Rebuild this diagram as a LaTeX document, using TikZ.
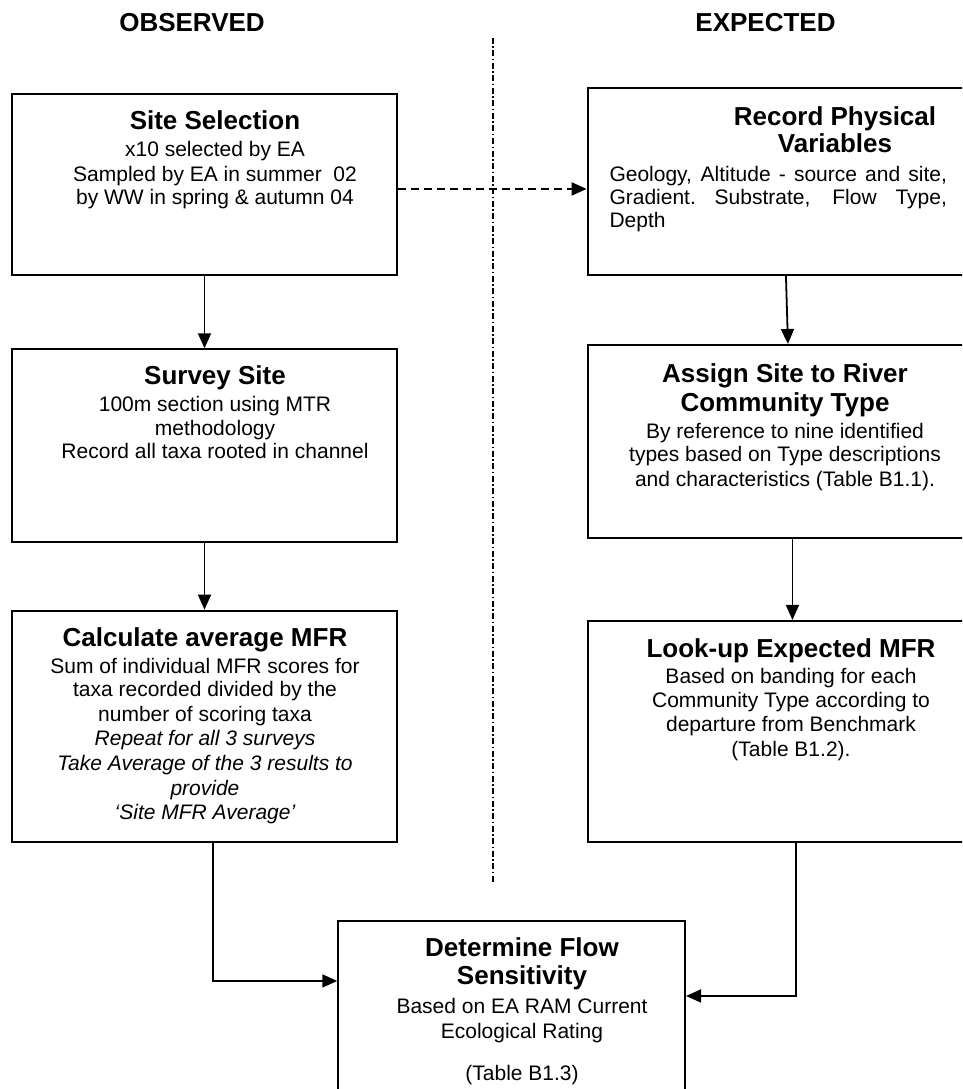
\documentclass[tikz,border=0pt]{standalone}
\usepackage{fontspec}
\setmainfont{Liberation Sans}
\usetikzlibrary{arrows.meta,calc}
\begin{document}
\begin{tikzpicture}[x=1pt,y=-1pt,
  box/.style={draw, line width=2.1pt, rectangle, inner sep=0pt},
  hd/.style={font=\fontsize{26}{28}\selectfont\bfseries, inner sep=0pt, anchor=base},
  ttl/.style={font=\fontsize{26}{28}\selectfont\bfseries, inner sep=0pt, anchor=base},
  bd/.style={font=\fontsize{21}{24}\selectfont, inner sep=0pt, anchor=base},
  itl/.style={font=\fontsize{21}{24}\selectfont\itshape, inner sep=0pt, anchor=base},
  arr/.style={line width=1.8pt, -{Triangle[length=15pt,width=13pt]}},
  dasharr/.style={arr, dash pattern=on 8pt off 5pt},
  divider/.style={line width=1.5pt, dash pattern=on 6pt off 2.5pt on 1.5pt off 2.5pt}
]
\useasboundingbox (0,0) rectangle (962,1089);
\clip (0,0) rectangle (962,1089);

% headings
\node[hd] (hobs) at (192,31.7) {OBSERVED};
\node[hd] (hexp) at (765.5,31.7) {EXPECTED};

% divider
\coordinate (divtop) at (493,38);
\coordinate (divbot) at (493,882);
\draw[divider] (divtop) -- (divbot);

% boxes
\node[box, minimum width=384.4pt, minimum height=181pt] (ss) at (204.5,184.5) {};
\node[box, minimum width=392.3pt, minimum height=186.7pt] (rp) at (783.85,181.65) {};
\node[box, minimum width=384.4pt, minimum height=193pt] (sv) at (204.5,445.8) {};
\node[box, minimum width=392.3pt, minimum height=193.3pt] (as) at (783.85,441.65) {};
\node[box, minimum width=384.4pt, minimum height=231pt] (ca) at (204.5,726.2) {};
\node[box, minimum width=392.3pt, minimum height=220.7pt] (lu) at (783.85,731.35) {};
\node[box, minimum width=346.7pt, minimum height=180pt] (df) at (511.65,1010.7) {};

% Site Selection
\node[ttl] (ss1) at (215,130) {Site Selection};
\node[bd] (ss2) at (215,157) {x10 selected by EA};
\node[bd] (ss3) at (215,181) {Sampled by EA in summer~ 02};
\node[bd] (ss4) at (215,204.3) {by WW in spring \& autumn 04};

% Record Physical Variables
\node[ttl] (rp1) at (835,125) {Record Physical};
\node[ttl] (rp2) at (835,152.7) {Variables};
\node[bd, anchor=base west] (rp3) at (609.3,181.7) {\makebox[337.4pt][s]{Geology, Altitude - source and site,}};
\node[bd, anchor=base west] (rp4) at (609.3,204.3) {\makebox[337.4pt][s]{Gradient.\ Substrate, Flow Type,}};
\node[bd, anchor=base west] (rp5) at (609.3,227.7) {Depth};

% Survey Site
\node[ttl] (sv1) at (215,384) {Survey Site};
\node[bd] (sv2) at (215,411.7) {100m section using MTR};
\node[bd] (sv3) at (215,435) {methodology};
\node[bd] (sv4) at (215,458.3) {Record all taxa rooted in channel};

% Assign Site
\node[ttl] (as1) at (785,382.7) {Assign Site to River};
\node[ttl] (as2) at (785,411) {Community Type};
\node[bd] (as3) at (785,438.3) {By reference to nine identified};
\node[bd] (as4) at (785,461.7) {types based on Type descriptions};
\node[bd] (as5) at (785,486.7) {and characteristics (Table B1.1).};

% Calculate average MFR
\node[ttl] (ca1) at (205,646.7) {Calculate average MFR};
\node[bd] (ca2) at (205,673.3) {Sum of individual MFR scores for};
\node[bd] (ca3) at (205,696.7) {taxa recorded divided by the};
\node[bd] (ca4) at (205,721.7) {number of scoring taxa};
\node[itl] (ca5) at (205,745.7) {Repeat for all 3 surveys};
\node[itl] (ca6) at (205,770.7) {Take Average of the 3 results to};
\node[itl] (ca7) at (205,795) {provide};
\node[itl] (ca8) at (205,819.3) {‘Site MFR Average’};

% Look-up Expected MFR
\node[ttl] (lu1) at (791,657.3) {Look-up Expected MFR};
\node[bd] (lu2) at (791,683.3) {Based on banding for each};
\node[bd] (lu3) at (791,707.3) {Community Type according to};
\node[bd] (lu4) at (791,731.7) {departure from Benchmark};
\node[bd] (lu5) at (791,756.7) {(Table B1.2).};

% Determine Flow Sensitivity
\node[ttl] (df1) at (522,956.7) {Determine Flow};
\node[ttl] (df2) at (522,984.3) {Sensitivity};
\node[bd] (df3) at (522,1013.3) {Based on EA RAM Current};
\node[bd] (df4) at (522,1038.3) {Ecological Rating};
\node[bd] (df5) at (522,1080) {(Table B1.3)};

% connectors
\draw[arr] (ss.south) -- (sv.north);
\draw[arr] (sv.south) -- (ca.north);
\draw[dasharr] ($(ss.north east)+(0,96)$) -- ($(rp.north west)+(0,101.7)$);
\draw[arr] ($(rp.south west)+(199.3,0)$) -- ($(as.north west)+(201.3,0)$);
\draw[arr] ($(as.south west)+(205.8,0)$) -- ($(lu.north west)+(205.8,0)$);
\draw[arr] ($(ca.south west)+(201.7,0)$) |- ($(df.north west)+(0,61.3)$);
\draw[arr] ($(lu.south west)+(209.3,0)$) |- ($(df.north east)+(0,76.3)$);
\end{tikzpicture}
\end{document}
